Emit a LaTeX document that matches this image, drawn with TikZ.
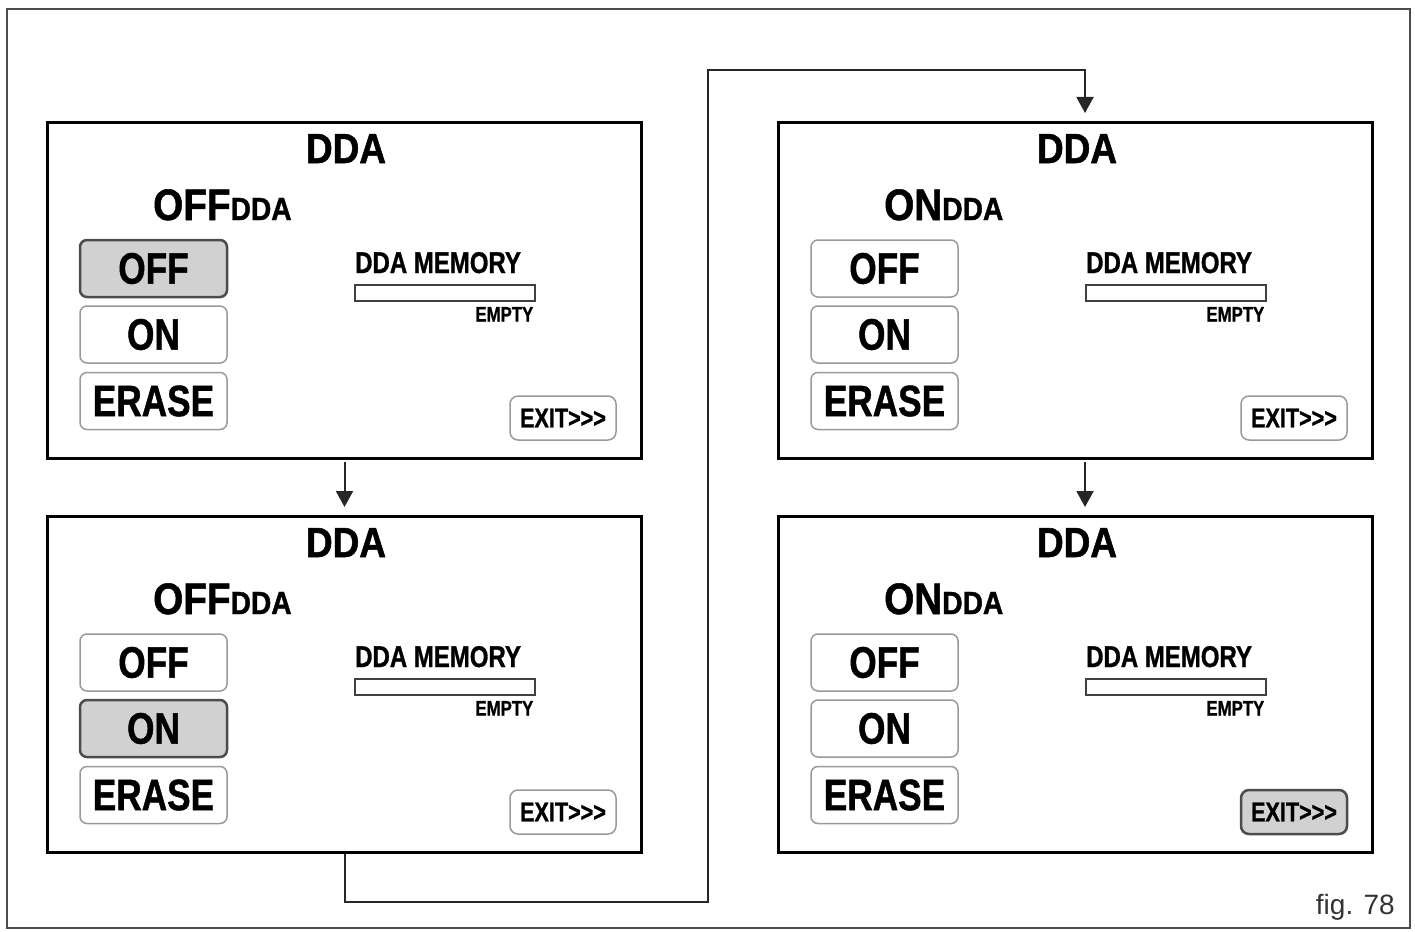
\documentclass[tikz,border=0pt]{standalone}
\usepackage{fontspec}
\setmainfont{Liberation Sans}
\newfontfamily\condfont[FakeStretch=0.8,FakeBold=1]{Liberation Sans}
\newfontfamily\widefont[FakeStretch=0.88,FakeBold=1.2]{Liberation Sans}
\usetikzlibrary{arrows.meta,
	calc,
	positioning}

\begin{document}
\begin{tikzpicture}[x=1pt,y=-1pt]
        \tikzstyle{panel}=[draw=black,line width=3pt,minimum width=594pt,minimum height=336pt,inner sep=0pt,anchor=north west]
        \tikzstyle{button}=[draw=black!40,line width=1.5pt,rounded corners=7pt,minimum width=147pt,minimum height=57pt,inner sep=0pt,font=\condfont\bfseries\fontsize{44}{44}\selectfont]
        \tikzstyle{exitbutton}=[button,minimum width=106pt,minimum height=44pt,rounded corners=8pt,font=\condfont\bfseries\fontsize{27}{27}\selectfont]
        \tikzstyle{picked}=[fill=black!18,draw=black!70,line width=2.5pt]
        \tikzstyle{membar}=[draw=black!75,line width=1.5pt,minimum width=180pt,minimum height=16pt,inner sep=0pt,anchor=north west]
        \tikzstyle{label}=[inner sep=0pt,font=\condfont\bfseries]
        \tikzstyle{flow}=[draw=black!85,line width=2pt,shorten >=8pt,-{Triangle[width=17pt,length=16pt]}]
        \useasboundingbox (0,0) rectangle (1415,931);
        \draw[black!70,line width=2pt] (7,9) rectangle (1410,928);
        \foreach \pn/\px/\py/\pst/\psel in {tl/46/121/OFF/off, bl/46/515/OFF/on, tr/777/121/ON/none, br/777/515/ON/exit}{
          \tikzset{hl-off/.style={},hl-on/.style={},hl-erase/.style={},hl-exit/.style={},hl-\psel/.style={picked}}
          \node[panel] (\pn) at (\px,\py) {};
          \node[label,anchor=base,font=\widefont\bfseries\fontsize{42}{42}\selectfont] (\pn-title) at ($(\pn.north west)+(300,42)$) {DDA};
          \node[label,anchor=base west,font=\widefont\bfseries] (\pn-state) at ($(\pn.north west)+(107,99)$) {{\fontsize{44}{44}\selectfont\pst}{\fontsize{32}{32}\selectfont DDA}};
          \node[button,hl-off] (\pn-off) at ($(\pn.north west)+(107.5,147.5)$) {OFF};
          \node[button,hl-on] (\pn-on) at ($(\pn.north west)+(107.5,213.5)$) {ON};
          \node[button,hl-erase] (\pn-erase) at ($(\pn.north west)+(107.5,280)$) {ERASE};
          \node[label,anchor=base west,font=\condfont\bfseries\fontsize{30}{30}\selectfont] (\pn-memory) at ($(\pn.north west)+(309,152)$) {DDA MEMORY};
          \node[membar] (\pn-bar) at ($(\pn.north west)+(308,163)$) {};
          \node[label,anchor=base east,font=\condfont\bfseries\fontsize{21}{21}\selectfont] (\pn-empty) at ($(\pn-bar.south east)+(-2,20)$) {EMPTY};
          \node[exitbutton,hl-exit] (\pn-exit) at ($(\pn.north west)+(517,297)$) {EXIT>>>};
        }
        \coordinate (tx) at (1085,0);
        \coordinate (lowturn) at (708,902);
        \coordinate (highturn) at (708,70);
        \draw[flow,shorten <=2pt] (tl.south) -- (bl.north);
        \draw[flow,shorten <=2pt] (tr.south -| tx) -- (br.north -| tx);
        \draw[flow] (bl.south) |- (lowturn) -- (highturn) -| (tr.north -| tx);
        \node[anchor=base east,inner sep=0pt,text=black!80,font=\fontsize{28}{28}\selectfont] (fig) at (1395,914) {fig. 78};
      \end{tikzpicture}
\end{document}
